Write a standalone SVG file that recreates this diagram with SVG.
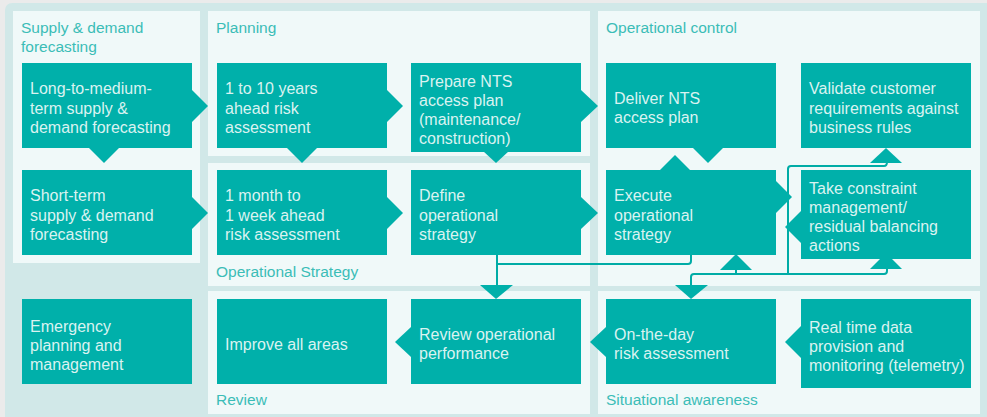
<svg xmlns="http://www.w3.org/2000/svg" width="987" height="417" viewBox="0 0 987 417">
<style>
.panel{fill:#f0f9f9}
.node{fill:#00b0aa}
.ptr{fill:#00b0aa}
.t{font-family:"Liberation Sans",Arial,sans-serif;font-size:16px;fill:#daf3f1}
.h{font-family:"Liberation Sans",Arial,sans-serif;font-size:15.5px;fill:#3bbdb7}
.ln{fill:none;stroke:#00aca6;stroke-width:2}
</style>
<rect x="0" y="0" width="987" height="417" fill="#ebebeb"/>
<rect x="5" y="3" width="990" height="420" rx="7" fill="#d1e8e8"/>
<g id="panels">
<rect class="panel" x="13" y="11" width="187" height="252"/>
<rect class="panel" x="208" y="11" width="382" height="145"/>
<rect class="panel" x="208" y="163" width="382" height="123"/>
<rect class="panel" x="208" y="291" width="382" height="123"/>
<rect class="panel" x="598" y="11" width="382" height="275"/>
<rect class="panel" x="598" y="291" width="382" height="123"/>
<text class="h" x="21" y="33">Supply &amp; demand</text>
<text class="h" x="21" y="52">forecasting</text>
<text class="h" x="216" y="33">Planning</text>
<text class="h" x="606" y="33">Operational control</text>
<text class="h" x="216" y="277">Operational Strategy</text>
<text class="h" x="216" y="405">Review</text>
<text class="h" x="606" y="405">Situational awareness</text>
</g>
<g id="connectors">
<path class="ln" d="M497 255V285"/>
<path class="ln" d="M691 255V261Q691 264 688 264H497"/>
<path class="ln" d="M887 266V271Q887 274 884 274H694Q691 274 691 277V286"/>
<path class="ln" d="M736 268V274"/>
<path class="ln" d="M788 274V169Q788 166 791 166H884Q887 166 887 162"/>
<polygon class="ptr" points="192,90 208,106 192,122"/>
<polygon class="ptr" points="387,90 403,106 387,122"/>
<polygon class="ptr" points="581,90 598,106 581,122"/>
<polygon class="ptr" points="192,197 208,213 192,229"/>
<polygon class="ptr" points="387,197 403,213 387,229"/>
<polygon class="ptr" points="581,197 598,213 581,229"/>
<polygon class="ptr" points="776,181 792,197 776,213"/>
<polygon class="ptr" points="801,211 785,227 801,243"/>
<polygon class="ptr" points="88,147 104,163 120,147"/>
<polygon class="ptr" points="286,147 302,163 318,147"/>
<polygon class="ptr" points="483,151 496,163 509,151"/>
<polygon class="ptr" points="692,147 708,163 724,147"/>
<polygon class="ptr" points="659,171 675,155 691,171"/>
<polygon class="ptr" points="870,163 886,148 902,163"/>
<polygon class="ptr" points="870,269 886,253 902,269"/>
<polygon class="ptr" points="720,270 736,254 752,270"/>
<polygon class="ptr" points="480,285 496,299 513,285"/>
<polygon class="ptr" points="675,285 691,299 708,285"/>
<polygon class="ptr" points="411,327 395,342 411,357"/>
<polygon class="ptr" points="606,327 590,342 606,357"/>
<polygon class="ptr" points="801,326 785,342 801,358"/>
</g>
<g id="n1"><rect class="node" x="22" y="63" width="170" height="85"/><text class="t" x="30" y="94">Long-to-medium-</text><text class="t" x="30" y="113.5">term supply &amp;</text><text class="t" x="30" y="133">demand forecasting</text></g>
<g id="n2"><rect class="node" x="217" y="63" width="170" height="85"/><text class="t" x="225" y="94">1 to 10 years</text><text class="t" x="225" y="113.5">ahead risk</text><text class="t" x="225" y="133">assessment</text></g>
<g id="n3"><rect class="node" x="411" y="63" width="170" height="89"/><text class="t" x="419" y="87">Prepare NTS</text><text class="t" x="419" y="106">access plan</text><text class="t" x="419" y="125">(maintenance/</text><text class="t" x="419" y="144">construction)</text></g>
<g id="n4"><rect class="node" x="606" y="63" width="170" height="85"/><text class="t" x="614" y="104">Deliver NTS</text><text class="t" x="614" y="123">access plan</text></g>
<g id="n5"><rect class="node" x="801" y="63" width="170" height="85"/><text class="t" x="809" y="94">Validate customer</text><text class="t" x="809" y="113.5">requirements against</text><text class="t" x="809" y="133">business rules</text></g>
<g id="n6"><rect class="node" x="22" y="170" width="170" height="85"/><text class="t" x="30" y="201">Short-term</text><text class="t" x="30" y="220.5">supply &amp; demand</text><text class="t" x="30" y="240">forecasting</text></g>
<g id="n7"><rect class="node" x="217" y="170" width="170" height="85"/><text class="t" x="225" y="201">1 month to</text><text class="t" x="225" y="220.5">1 week ahead</text><text class="t" x="225" y="240">risk assessment</text></g>
<g id="n8"><rect class="node" x="411" y="170" width="170" height="85"/><text class="t" x="419" y="201">Define</text><text class="t" x="419" y="220.5">operational</text><text class="t" x="419" y="240">strategy</text></g>
<g id="n9"><rect class="node" x="606" y="170" width="170" height="85"/><text class="t" x="614" y="201">Execute</text><text class="t" x="614" y="220.5">operational</text><text class="t" x="614" y="240">strategy</text></g>
<g id="n10"><rect class="node" x="801" y="170" width="170" height="89"/><text class="t" x="809" y="194">Take constraint</text><text class="t" x="809" y="213">management/</text><text class="t" x="809" y="232">residual balancing</text><text class="t" x="809" y="251">actions</text></g>
<g id="n11"><rect class="node" x="22" y="299" width="170" height="85"/><text class="t" x="30" y="332">Emergency</text><text class="t" x="30" y="351">planning and</text><text class="t" x="30" y="370">management</text></g>
<g id="n12"><rect class="node" x="217" y="299" width="170" height="85"/><text class="t" x="225" y="350">Improve all areas</text></g>
<g id="n13"><rect class="node" x="411" y="299" width="170" height="85"/><text class="t" x="419" y="340">Review operational</text><text class="t" x="419" y="359">performance</text></g>
<g id="n14"><rect class="node" x="606" y="299" width="170" height="85"/><text class="t" x="614" y="340">On-the-day</text><text class="t" x="614" y="359">risk assessment</text></g>
<g id="n15"><rect class="node" x="801" y="299" width="170" height="89"/><text class="t" x="809" y="333">Real time data</text><text class="t" x="809" y="352">provision and</text><text class="t" x="809" y="371">monitoring (telemetry)</text></g>
</svg>
